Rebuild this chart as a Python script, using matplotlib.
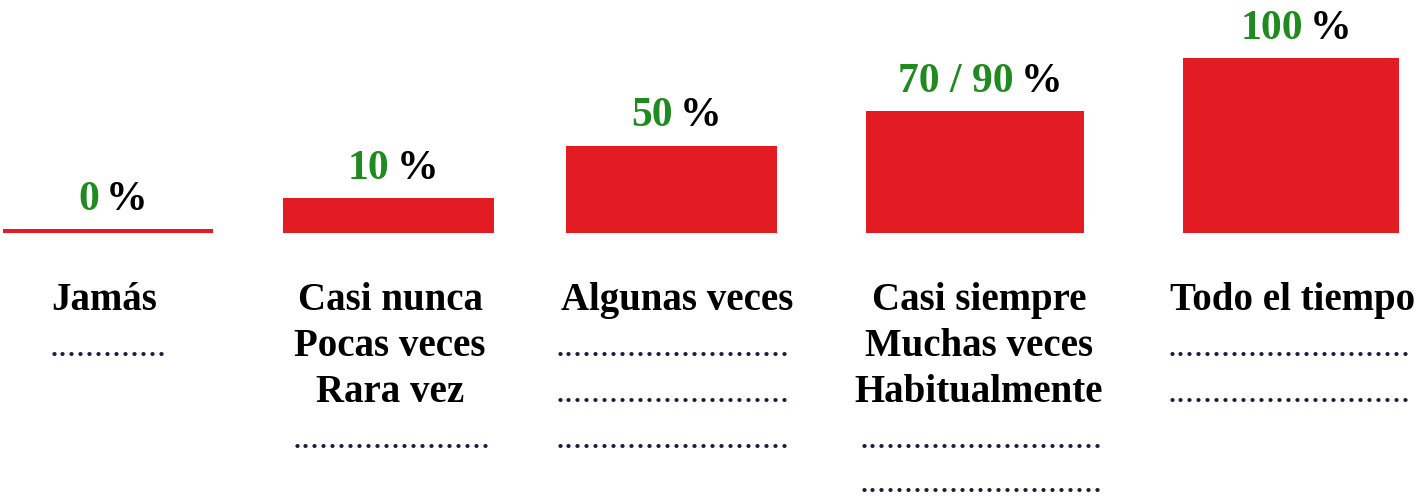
import matplotlib
matplotlib.use('Agg')
import matplotlib.pyplot as plt
from matplotlib.offsetbox import TextArea, HPacker, AnnotationBbox

# data
categories = ['Jamás', 'Casi nunca', 'Algunas veces', 'Casi siempre', 'Todo el tiempo']
pct_labels = ['0', '10', '50', '70 / 90', '100']
bar_heights = [2.3, 20, 50, 70, 100]   # visual height of each bar (100 = tallest)
sub_lines = [
    ['Jamás', 13],
    ['Casi nunca', 'Pocas veces', 'Rara vez', 22],
    ['Algunas veces', 26, 26, 26],
    ['Casi siempre', 'Muchas veces', 'Habitualmente', 27, 27],
    ['Todo el tiempo', 27, 27],
]

# layout (pixels)
W, H = 1423, 500
BASE_PX = 233          # bar baseline
PX_PER_UNIT = 1.75     # 100 units -> 175 px
centers = [108, 388, 671, 975, 1291]
widths = [210, 211, 211, 218, 216]
text_dx = [-4, 2, 6, 4, 2]
dots_dx = [0, 4, 2, 6, -2]
row_base = [310, 356, 402, 448, 492]

RED = '#e31c24'
GREEN = '#1f8a1f'
FONT = 'Liberation Serif'


def py2y(py):
    return (BASE_PX - py) / PX_PER_UNIT


fig = plt.figure(figsize=(W / 100, H / 100), dpi=100)
ax = fig.add_axes([0, 0, 1, 1])
ax.set_xlim(0, W)
ax.set_ylim(py2y(H), py2y(0))
ax.axis('off')

ax.bar(centers, bar_heights, width=widths, color=RED, edgecolor='none')

# value labels above the bars: green number, black %
for x, h, lab in zip(centers, bar_heights, pct_labels):
    num = TextArea(lab, textprops=dict(color=GREEN, fontsize=30, fontweight='bold',
                                       family=FONT))
    pc = TextArea('%', textprops=dict(color='black', fontsize=30, fontweight='bold',
                                      family=FONT))
    box = HPacker(children=[num, pc], align='baseline', pad=0, sep=5)
    ab = AnnotationBbox(box, (x + 5, h + 10 / PX_PER_UNIT), box_alignment=(0.5, 0.0),
                        frameon=False, pad=0)
    ax.add_artist(ab)

# category text below
for x, dx, ddx, lines in zip(centers, text_dx, dots_dx, sub_lines):
    for i, ln in enumerate(lines):
        if isinstance(ln, int):
            ax.text(x + ddx, py2y(row_base[i]), '.' * ln, ha='center', va='baseline',
                    fontsize=26, family=FONT, color='#1c1c40')
        else:
            ax.text(x + dx, py2y(row_base[i]), ln, ha='center', va='baseline',
                    fontsize=28, fontweight='bold', family=FONT, color='black')

fig.savefig('out.png', dpi=100, facecolor='white')
